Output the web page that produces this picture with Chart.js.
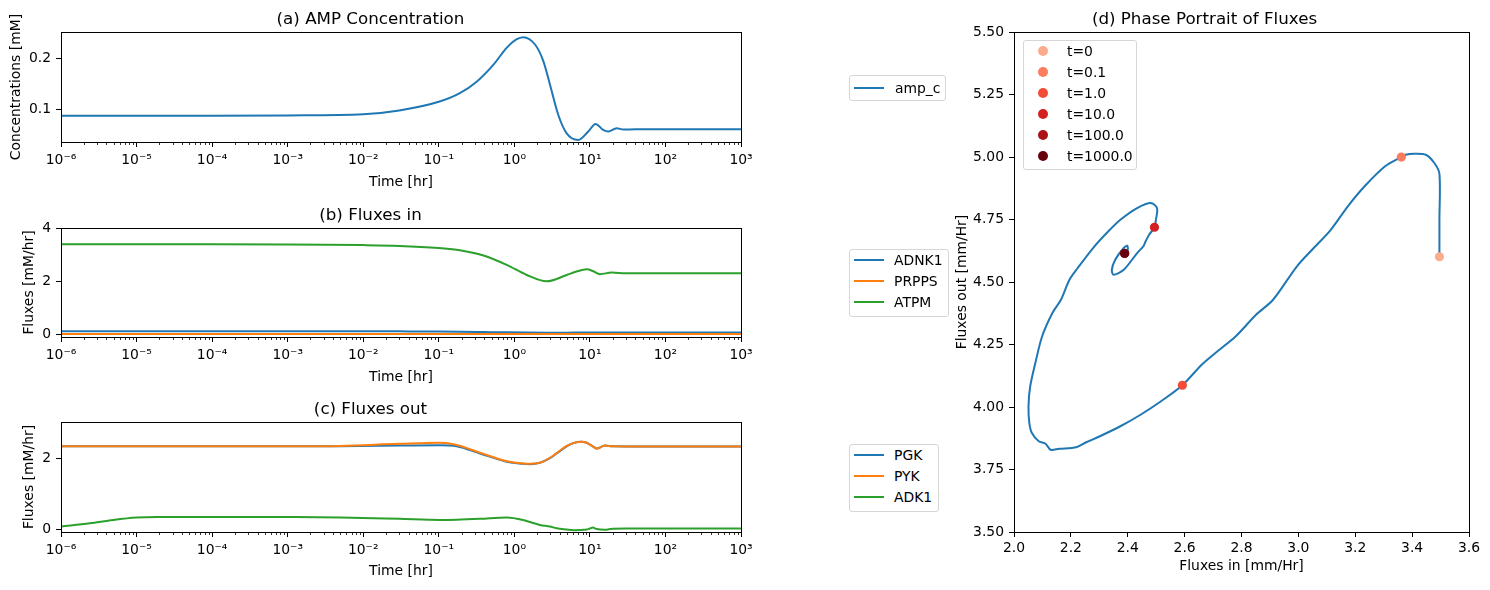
<!DOCTYPE html>
<html lang="en">
<head>
<meta charset="UTF-8">
<title>AMP dynamics and flux phase portrait</title>
<script src="https://cdn.jsdelivr.net/npm/chart.js"></script>
<style>
    body { margin: 0; background: #fff; font-family: "DejaVu Sans", sans-serif; }
    #fig { position: relative; width: 1490px; height: 590px; overflow: hidden; }
    canvas { position: absolute; }
    .legend {
        position: absolute;
        box-sizing: border-box;
        border: 1px solid #d6d6d6;
        border-radius: 3px;
        background: rgba(255, 255, 255, 0.8);
        font-size: 13.9px;
        color: #000;
    }
    .legend .row { position: absolute; left: 0; height: 20px; line-height: 20px; white-space: nowrap; }
    .legend .handle { position: absolute; left: 4px; top: 9px; width: 30px; height: 2px; }
    .legend .dot { position: absolute; left: 14px; top: 5px; width: 10px; height: 10px; border-radius: 50%; }
    .legend .txt { position: absolute; }
</style>
</head>
<body>
<div id="fig">
    <canvas id="cA" width="760" height="196" style="left:0;top:0"></canvas>
    <canvas id="cB" width="760" height="194" style="left:0;top:196px"></canvas>
    <canvas id="cC" width="760" height="200" style="left:0;top:390px"></canvas>
    <canvas id="cD" width="550" height="590" style="left:940px;top:0"></canvas>
</div>
<script>
// ---- data ----
const xTickValues = [1e-6, 1e-5, 1e-4, 1e-3, 1e-2, 1e-1, 1, 10, 100, 1000];
const xTickLabels = ['10⁻⁶', '10⁻⁵', '10⁻⁴', '10⁻³', '10⁻²', '10⁻¹', '10⁰', '10¹', '10²', '10³'];
const minorSteps = [2, 3, 4, 5, 6, 7, 8, 9];

// (a) AMP concentration
const tA = [1e-6, 1e-4, 1e-3, 1e-2, 0.03, 0.1, 0.19, 0.32, 0.53, 0.79, 1.05, 1.31, 1.87, 2.42, 2.96, 3.82, 4.93, 7.0, 9.5, 11.9, 15, 17.5, 22.6, 27.7, 40, 1000];
const ampC = [0.0875, 0.0875, 0.0882, 0.0905, 0.098, 0.115, 0.132, 0.155, 0.188, 0.221, 0.237, 0.242, 0.228, 0.195, 0.149, 0.089, 0.053, 0.040, 0.0565, 0.0716, 0.0597, 0.0565, 0.063, 0.0605, 0.061, 0.061];
const yTicksA = [0.1, 0.2];

// (b) fluxes in
const tB = [1e-6, 1e-4, 1e-3, 1e-2, 0.03, 0.1, 0.19, 0.39, 0.79, 1.46, 2.68, 4.93, 6.67, 9.06, 11.1, 13.6, 19.4, 30, 1000];
const adnk1 = [0.13, 0.13, 0.13, 0.128, 0.125, 0.12, 0.112, 0.10, 0.088, 0.08, 0.076, 0.078, 0.08, 0.082, 0.081, 0.08, 0.08, 0.08, 0.08];
const prpps = [0.025, 0.025, 0.025, 0.025, 0.025, 0.025, 0.025, 0.025, 0.025, 0.025, 0.025, 0.025, 0.025, 0.025, 0.025, 0.025, 0.025, 0.025, 0.025];
const atpm = [3.39, 3.39, 3.385, 3.36, 3.33, 3.25, 3.17, 2.97, 2.62, 2.24, 2.00, 2.24, 2.37, 2.45, 2.38, 2.27, 2.33, 2.306, 2.306];
const yTicksB = [0, 2, 4];

// (c) fluxes out
const tC = [1e-6, 2.4e-6, 4.9e-6, 1e-5, 1.85e-5, 1e-4, 1e-3, 5e-3, 0.03, 0.104, 0.173, 0.351, 0.79, 1.31, 1.61, 2.18, 2.96, 3.63, 4.93, 6.03, 7.78, 9.06, 10.0, 10.9, 12.3, 15.8, 20, 30, 1000];
const pgk = [2.33, 2.33, 2.33, 2.33, 2.33, 2.33, 2.33, 2.335, 2.35, 2.36, 2.33, 2.13, 1.90, 1.84, 1.83, 1.87, 2.00, 2.13, 2.33, 2.42, 2.46, 2.43, 2.38, 2.33, 2.27, 2.35, 2.33, 2.327, 2.327];
const pyk = [2.33, 2.33, 2.33, 2.33, 2.33, 2.33, 2.33, 2.34, 2.40, 2.43, 2.37, 2.15, 1.915, 1.85, 1.84, 1.87, 2.01, 2.14, 2.34, 2.42, 2.46, 2.43, 2.38, 2.33, 2.27, 2.35, 2.33, 2.327, 2.327];
const adk1 = [0.085, 0.177, 0.27, 0.338, 0.355, 0.355, 0.35, 0.338, 0.30, 0.27, 0.275, 0.30, 0.34, 0.27, 0.21, 0.13, 0.085, 0.037, 0.0, -0.02, -0.01, 0.0, 0.03, 0.056, 0.014, -0.005, 0.025, 0.028, 0.028];
const yTicksC = [0, 2];

// (d) phase portrait
const fluxIn = [3.496, 3.496, 3.496, 3.478, 3.448, 3.407, 3.377, 3.362, 3.305, 3.233, 3.174, 3.114, 3.054, 2.995, 2.911, 2.851, 2.780, 2.708, 2.660, 2.592, 2.517, 2.445, 2.374, 2.302, 2.254, 2.219, 2.159, 2.129, 2.111, 2.087, 2.063, 2.054, 2.051, 2.057, 2.075, 2.099, 2.135, 2.165, 2.195, 2.224, 2.278, 2.326, 2.374, 2.433, 2.481, 2.503, 2.499, 2.494, 2.475, 2.463, 2.455, 2.433, 2.386, 2.350, 2.344, 2.356, 2.386, 2.398, 2.400, 2.392];
const fluxOut = [4.601, 4.75, 4.933, 4.976, 5.009, 5.013, 5.009, 5.0, 4.963, 4.883, 4.803, 4.709, 4.636, 4.563, 4.429, 4.369, 4.283, 4.216, 4.169, 4.087, 4.023, 3.969, 3.923, 3.883, 3.859, 3.839, 3.833, 3.829, 3.853, 3.863, 3.896, 3.936, 4.003, 4.083, 4.176, 4.283, 4.376, 4.429, 4.509, 4.556, 4.636, 4.696, 4.749, 4.796, 4.816, 4.796, 4.749, 4.719, 4.689, 4.663, 4.643, 4.616, 4.549, 4.529, 4.549, 4.589, 4.636, 4.645, 4.629, 4.616];
const markerLabels = ['t=0', 't=0.1', 't=1.0', 't=10.0', 't=100.0', 't=1000.0'];
const markerIn = [3.496, 3.362, 2.592, 2.494, 2.389, 2.389];
const markerOut = [4.601, 5.0, 4.087, 4.719, 4.615, 4.614];
const markerColors = ['#fcab8e', '#fb7d5d', '#f34c37', '#d42021', '#aa1016', '#67000d'];
const xTicksD = [2.0, 2.2, 2.4, 2.6, 2.8, 3.0, 3.2, 3.4, 3.6];
const yTicksD = [3.5, 3.75, 4.0, 4.25, 4.5, 4.75, 5.0, 5.25, 5.5];

const BLUE = '#1f77b4', ORANGE = '#ff7f0e', GREEN = '#2ca02c';
const FONT = 'DejaVu Sans';
Chart.defaults.font.family = FONT;
Chart.defaults.color = '#000';

// black box round the plot area, like matplotlib spines
const frame = {
    id: 'frame',
    afterDraw(chart) {
        const a = chart.chartArea, ctx = chart.ctx;
        ctx.save();
        ctx.strokeStyle = '#000';
        ctx.lineWidth = 1;
        ctx.strokeRect(Math.round(a.left) + 0.5, Math.round(a.top) + 0.5,
            Math.round(a.right) - Math.round(a.left), Math.round(a.bottom) - Math.round(a.top));
        ctx.restore();
    }
};

// short minor ticks on the log axis
const minorTicks = {
    id: 'minorTicks',
    afterDraw(chart) {
        const s = chart.scales.x;
        if (s.type !== 'logarithmic') return;
        const ctx = chart.ctx;
        ctx.save();
        ctx.strokeStyle = '#000';
        ctx.lineWidth = 0.8;
        for (let i = 0; i < xTickValues.length - 1; i++) {
            for (const m of minorSteps) {
                const px = Math.round(s.getPixelForValue(m * xTickValues[i])) + 0.5;
                ctx.beginPath();
                ctx.moveTo(px, s.top);
                ctx.lineTo(px, s.top + 3);
                ctx.stroke();
            }
        }
        ctx.restore();
    }
};

const tickFont = { family: FONT, size: 13.9 };
const labelFont = { family: FONT, size: 13.9 };
const titleFont = { family: FONT, size: 16.7, weight: 'normal' };
const gridOpts = { display: true, drawOnChartArea: false, drawTicks: true, tickLength: 5, tickColor: '#000', tickWidth: 1 };

function timeChart(id, cfg) {
    return new Chart(document.getElementById(id), {
        type: 'line',
        data: {
            datasets: cfg.series.map((s, i) => ({
                label: s.label,
                data: cfg.t.map((t, k) => ({ x: t, y: s.values[k] })),
                borderColor: s.color,
                backgroundColor: s.color,
                borderWidth: 2,
                pointRadius: 0,
                cubicInterpolationMode: 'monotone',
                order: cfg.series.length - i
            }))
        },
        options: {
            responsive: false,
            animation: false,
            devicePixelRatio: 1,
            layout: { padding: { left: 0, right: 19, top: 0, bottom: 0 } },
            plugins: {
                legend: { display: false },
                tooltip: { enabled: false },
                title: { display: true, text: cfg.title, color: '#000', font: titleFont,
                    padding: { top: 10, bottom: 2 } }
            },
            scales: {
                x: {
                    type: 'logarithmic', min: 1e-6, max: 1e3,
                    afterBuildTicks: s => { s.ticks = xTickValues.map(v => ({ value: v })); },
                    afterFit: s => { s.height = cfg.xAxisH; },
                    ticks: { autoSkip: false, maxRotation: 0, padding: 5, font: tickFont, color: '#000',
                        callback: (v, i) => xTickLabels[i] },
                    grid: gridOpts,
                    border: { display: false },
                    title: { display: true, text: 'Time [hr]', color: '#000', font: labelFont,
                        padding: { top: 0, bottom: cfg.xTitlePad } }
                },
                y: {
                    type: 'linear', min: cfg.yMin, max: cfg.yMax,
                    afterBuildTicks: s => { s.ticks = cfg.yTicks.map(v => ({ value: v })); },
                    afterFit: s => { s.width = 61; },
                    ticks: { padding: 5, font: tickFont, color: '#000', callback: v => String(v) },
                    grid: gridOpts,
                    border: { display: false },
                    title: { display: true, text: cfg.yTitle, color: '#000', font: labelFont,
                        padding: { top: cfg.yTitlePad, bottom: 0 } }
                }
            }
        },
        plugins: [frame, minorTicks]
    });
}

timeChart('cA', {
    title: '(a) AMP Concentration', t: tA,
    series: [{ label: 'amp_c', values: ampC, color: BLUE }],
    yMin: 0.036, yMax: 0.252, yTicks: yTicksA, yTitle: 'Concentrations [mM]', yTitlePad: 7.7,
    xAxisH: 54, xTitlePad: 5.7
});
timeChart('cB', {
    title: '(b) Fluxes in', t: tB,
    series: [
        { label: 'ADNK1', values: adnk1, color: BLUE },
        { label: 'PRPPS', values: prpps, color: ORANGE },
        { label: 'ATPM', values: atpm, color: GREEN }
    ],
    yMin: -0.086, yMax: 4.0, yTicks: yTicksB, yTitle: 'Fluxes [mM/hr]', yTitlePad: 20.7,
    xAxisH: 53, xTitlePad: 4.7
});
timeChart('cC', {
    title: '(c) Fluxes out', t: tC,
    series: [
        { label: 'PGK', values: pgk, color: BLUE },
        { label: 'PYK', values: pyk, color: ORANGE },
        { label: 'ADK1', values: adk1, color: GREEN }
    ],
    yMin: -0.068, yMax: 3.01, yTicks: yTicksC, yTitle: 'Fluxes [mM/hr]', yTitlePad: 20.7,
    xAxisH: 58, xTitlePad: 10
});

// (d) phase portrait
new Chart(document.getElementById('cD'), {
    type: 'scatter',
    data: {
        datasets: [{
            label: 'path',
            data: fluxIn.map((x, i) => ({ x: x, y: fluxOut[i] })),
            showLine: true, borderColor: BLUE, borderWidth: 2, pointRadius: 0, tension: 0.3,
            order: 20
        }].concat(markerLabels.map((lab, i) => ({
            label: lab,
            data: [{ x: markerIn[i], y: markerOut[i] }],
            pointRadius: 4.6, backgroundColor: markerColors[i], borderWidth: 0,
            order: markerLabels.length - i
        })))
    },
    options: {
        responsive: false,
        animation: false,
        devicePixelRatio: 1,
        layout: { padding: { left: 0, right: 21, top: 0, bottom: 0 } },
        plugins: {
            legend: { display: false },
            tooltip: { enabled: false },
            title: { display: true, text: '(d) Phase Portrait of Fluxes', color: '#000', font: titleFont,
                padding: { top: 10, bottom: 2 } }
        },
        scales: {
            x: {
                type: 'linear', min: 2.0, max: 3.6,
                afterBuildTicks: s => { s.ticks = xTicksD.map(v => ({ value: v })); },
                afterFit: s => { s.height = 58; },
                ticks: { autoSkip: false, maxRotation: 0, padding: 3, font: tickFont, color: '#000',
                    callback: v => v.toFixed(1) },
                grid: gridOpts,
                border: { display: false },
                title: { display: true, text: 'Fluxes in [mm/Hr]', color: '#000', font: labelFont,
                    padding: { top: 0, bottom: 15.4 } }
            },
            y: {
                type: 'linear', min: 3.5, max: 5.5,
                afterBuildTicks: s => { s.ticks = yTicksD.map(v => ({ value: v })); },
                afterFit: s => { s.width = 74; },
                ticks: { padding: 5, font: tickFont, color: '#000', callback: v => v.toFixed(2) },
                grid: gridOpts,
                border: { display: false },
                title: { display: true, text: 'Fluxes out [mm/Hr]', color: '#000', font: labelFont,
                    padding: { top: 13.7, bottom: 0 } }
            }
        }
    },
    plugins: [frame]
});

// legends (matplotlib style boxes)
function buildLegend(box, items, dot, textLeft) {
    const el = document.createElement('div');
    el.className = 'legend';
    el.style.left = box[0] + 'px';
    el.style.top = box[1] + 'px';
    el.style.width = box[2] + 'px';
    el.style.height = box[3] + 'px';
    items.forEach((it, i) => {
        const row = document.createElement('div');
        row.className = 'row';
        row.style.top = (box[4] + i * box[5] - 11) + 'px';
        const mark = document.createElement('span');
        mark.className = dot ? 'dot' : 'handle';
        mark.style.background = it.color;
        const txt = document.createElement('span');
        txt.className = 'txt';
        txt.style.left = textLeft + 'px';
        txt.textContent = it.label;
        row.appendChild(mark);
        row.appendChild(txt);
        el.appendChild(row);
    });
    document.getElementById('fig').appendChild(el);
}

buildLegend([849, 75, 97, 26, 12.5, 21], [{ label: 'amp_c', color: BLUE }], false, 45);
buildLegend([849, 249, 100, 68, 11, 21], [
    { label: 'ADNK1', color: BLUE }, { label: 'PRPPS', color: ORANGE }, { label: 'ATPM', color: GREEN }
], false, 44);
buildLegend([849, 444, 90, 68, 11, 21], [
    { label: 'PGK', color: BLUE }, { label: 'PYK', color: ORANGE }, { label: 'ADK1', color: GREEN }
], false, 44);
buildLegend([1023, 40, 114, 130, 11, 20.9],
    markerLabels.map((l, i) => ({ label: l, color: markerColors[i] })), true, 43);
</script>
</body>
</html>
